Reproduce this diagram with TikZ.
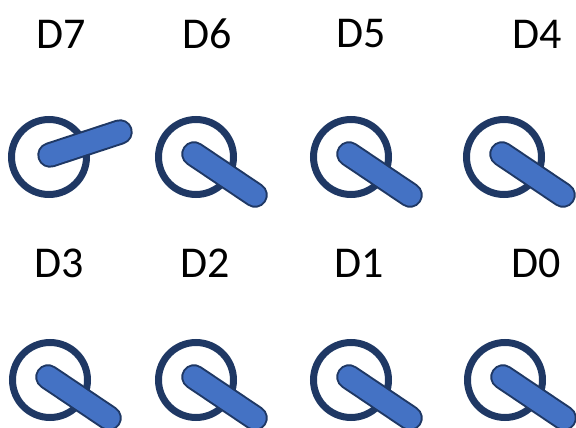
\documentclass[tikz,border=0pt]{standalone}
\usepackage{fontspec}
\setmainfont{Carlito}
\definecolor{navy}{HTML}{1F3864}
\definecolor{leverblue}{HTML}{4472C4}
\begin{document}
\begin{tikzpicture}[x=1pt,y=-1pt,
  ring/.style={circle, draw=navy, line width=7pt, minimum size=75pt, inner sep=0pt, fill=none},
  lever/.style={draw=navy, line width=2pt, double=leverblue, double distance=21.5pt, line cap=round},
  lbl/.style={inner sep=0pt, font=\fontsize{44}{50}\selectfont}]
\useasboundingbox (0,0) rectangle (576,428);
% labels
\node[lbl] (l7) at (61,34) {D7};
\node[lbl] (l6) at (207,34) {D6};
\node[lbl] (l5) at (361,34) {D5};
\node[lbl] (l4) at (537,34) {D4};
\node[lbl] (l3) at (59,263) {D3};
\node[lbl] (l2) at (205,263) {D2};
\node[lbl] (l1) at (359,263) {D1};
\node[lbl] (l0) at (536,263) {D0};
% rings
\node[ring] (s7) at (49,157) {};
\node[ring] (s6) at (196,157) {};
\node[ring] (s5) at (351,157) {};
\node[ring] (s4) at (504,157) {};
\node[ring] (s3) at (50,380) {};
\node[ring] (s2) at (196,380) {};
\node[ring] (s1) at (351,380) {};
\node[ring] (s0) at (505,380) {};
% levers
\draw[lever] ([shift={(1,-2)}]s7.center) -- ([shift={(71,-25)}]s7.center);
\foreach \s in {s6,s5,s4,s3,s2,s1,s0}{
  \draw[lever] ([shift={(-2,-3)}]\s.center) -- ([shift={(59,38)}]\s.center);
}
\end{tikzpicture}
\end{document}
